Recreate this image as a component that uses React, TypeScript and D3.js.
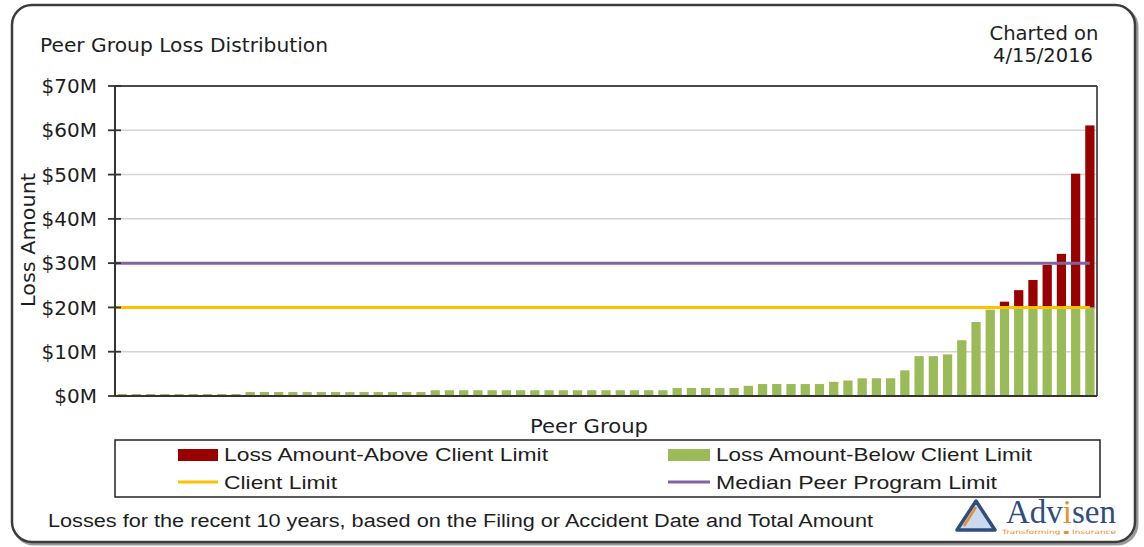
import * as d3 from "d3";

// loss amounts per peer, in $M, split at the client limit
const lossBelowLimit = [
  0.45, 0.45, 0.45, 0.45, 0.45, 0.45, 0.45, 0.45, 0.45,
  0.9, 0.9, 0.9, 0.9, 0.9, 0.9, 0.9, 0.9, 0.9, 0.9, 0.9, 0.9, 0.9,
  1.3, 1.3, 1.3, 1.3, 1.3, 1.3, 1.3, 1.3, 1.3, 1.3, 1.3, 1.3, 1.3, 1.3, 1.3, 1.3, 1.3,
  1.8, 1.8, 1.8, 1.8, 1.8,
  2.3,
  2.7, 2.7, 2.7, 2.7, 2.7,
  3.2, 3.5, 4.0, 4.0, 4.0, 5.8, 9.0, 9.0, 9.4, 12.6, 16.7, 19.5,
  20, 20, 20, 20, 20, 20, 20,
];
const lossAboveLimit = [
  0, 0, 0, 0, 0, 0, 0, 0, 0,
  0, 0, 0, 0, 0, 0, 0, 0, 0, 0, 0, 0, 0,
  0, 0, 0, 0, 0, 0, 0, 0, 0, 0, 0, 0, 0, 0, 0, 0, 0,
  0, 0, 0, 0, 0,
  0,
  0, 0, 0, 0, 0,
  0, 0, 0, 0, 0, 0, 0, 0, 0, 0, 0, 0,
  1.3, 3.9, 6.2, 9.6, 12.1, 30.2, 41.1,
];
const peers = lossBelowLimit.map((_, i) => `Peer ${i + 1}`);
const yTicks = [0, 10, 20, 30, 40, 50, 60, 70];
const clientLimit = 20;
const medianPeerLimit = 30;

const RED = "#990000";
const GREEN = "#9BBB59";
const YELLOW = "#FFC000";
const PURPLE = "#8064A2";
const TEXT = "#1e1e1e";
const SANS = "'DejaVu Sans', sans-serif";
const NARROW = "'Liberation Sans Narrow', 'Liberation Sans', sans-serif";

const plot = { left: 115, right: 1097, top: 86, bottom: 396 };

export default function App() {
  const x = d3
    .scaleBand<string>()
    .domain(peers)
    .range([plot.left, plot.right])
    .paddingInner(0.35)
    .paddingOuter(0.175);
  const y = d3.scaleLinear().domain([0, 70]).range([plot.bottom, plot.top]);
  const lastCenter = x(peers[peers.length - 1])! + x.bandwidth() / 2;

  return (
    <svg
      width={1144}
      height={547}
      style={{ position: "absolute", left: 0, top: 0 }}
    >
      <rect width={1144} height={547} fill="#fff" />
      {/* frame with shadow */}
      <rect x={14} y={7} width={1123} height={537} rx={20} fill="none" stroke="#9a9a9a" strokeWidth={3} />
      <rect x={12} y={5} width={1123} height={537} rx={20} fill="#fff" stroke="#3c3c3c" strokeWidth={2.5} />

      <text x={40} y={52} fontFamily={SANS} fontSize={19.5} fill={TEXT} textLength={288} lengthAdjust="spacingAndGlyphs">
        Peer Group Loss Distribution
      </text>
      <text x={1044} y={40} textAnchor="middle" fontFamily={SANS} fontSize={19} fill={TEXT} textLength={109} lengthAdjust="spacingAndGlyphs">
        Charted on
      </text>
      <text x={1043} y={62} textAnchor="middle" fontFamily={SANS} fontSize={19} fill={TEXT} textLength={100} lengthAdjust="spacingAndGlyphs">
        4/15/2016
      </text>

      {/* gridlines */}
      {yTicks.filter((t) => t > 0 && t < 70).map((t) => (
        <line key={t} x1={plot.left} x2={plot.right} y1={y(t)} y2={y(t)} stroke="#d4d4d4" strokeWidth={1.5} />
      ))}

      {/* bars */}
      {peers.map((p, i) => (
        <g key={p}>
          <rect x={x(p)} y={y(lossBelowLimit[i])} width={x.bandwidth()} height={y(0) - y(lossBelowLimit[i])} fill={GREEN} />
          {lossAboveLimit[i] > 0 && (
            <rect
              x={x(p)}
              y={y(lossBelowLimit[i] + lossAboveLimit[i])}
              width={x.bandwidth()}
              height={y(lossBelowLimit[i]) - y(lossBelowLimit[i] + lossAboveLimit[i])}
              fill={RED}
            />
          )}
        </g>
      ))}

      {/* limit lines */}
      <line x1={plot.left} x2={lastCenter} y1={y(clientLimit)} y2={y(clientLimit)} stroke={YELLOW} strokeWidth={3} />
      <line x1={plot.left} x2={lastCenter} y1={y(medianPeerLimit)} y2={y(medianPeerLimit)} stroke={PURPLE} strokeWidth={3} />

      {/* plot border and axes */}
      <line x1={plot.left} x2={plot.right} y1={plot.top} y2={plot.top} stroke="#4a4a4a" strokeWidth={1.8} />
      <line x1={plot.right} x2={plot.right} y1={plot.top} y2={plot.bottom} stroke="#4a4a4a" strokeWidth={1.8} />
      <line x1={plot.left} x2={plot.right} y1={plot.bottom} y2={plot.bottom} stroke="#333" strokeWidth={2} />
      <line x1={plot.left} x2={plot.left} y1={plot.top} y2={plot.bottom} stroke="#333" strokeWidth={2} />

      {yTicks.map((t) => (
        <g key={t}>
          <line x1={plot.left - 7} x2={plot.left + 6} y1={y(t)} y2={y(t)} stroke="#333" strokeWidth={1.8} />
          <text x={97} y={y(t)} dy="0.36em" textAnchor="end" fontFamily={SANS} fontSize={20} fill={TEXT}>
            {`$${t}M`}
          </text>
        </g>
      ))}

      <text
        transform={`translate(28, 240) rotate(-90)`}
        textAnchor="middle"
        dy="0.36em"
        fontFamily={SANS}
        fontSize={19}
        fill={TEXT}
        textLength={134}
        lengthAdjust="spacingAndGlyphs"
      >
        Loss Amount
      </text>
      <text x={589} y={433} textAnchor="middle" fontFamily={SANS} fontSize={19} fill={TEXT} textLength={118} lengthAdjust="spacingAndGlyphs">
        Peer Group
      </text>

      {/* legend */}
      <rect x={115} y={440} width={985} height={57} fill="none" stroke="#222" strokeWidth={1.5} />
      <rect x={178} y={449} width={40} height={12} fill={RED} />
      <text x={224} y={461} fontFamily={NARROW} fontSize={19} fill={TEXT} textLength={324} lengthAdjust="spacingAndGlyphs">
        Loss Amount-Above Client Limit
      </text>
      <rect x={668} y={449} width={42} height={12} fill={GREEN} />
      <text x={716} y={461} fontFamily={NARROW} fontSize={19} fill={TEXT} textLength={316} lengthAdjust="spacingAndGlyphs">
        Loss Amount-Below Client Limit
      </text>
      <line x1={178} x2={218} y1={482} y2={482} stroke={YELLOW} strokeWidth={3} />
      <text x={224} y={489} fontFamily={NARROW} fontSize={19} fill={TEXT} textLength={113} lengthAdjust="spacingAndGlyphs">
        Client Limit
      </text>
      <line x1={668} x2={710} y1={482} y2={482} stroke={PURPLE} strokeWidth={3} />
      <text x={716} y={489} fontFamily={NARROW} fontSize={19} fill={TEXT} textLength={281} lengthAdjust="spacingAndGlyphs">
        Median Peer Program Limit
      </text>

      <text x={48} y={527} fontFamily={NARROW} fontSize={18} fill={TEXT} textLength={825} lengthAdjust="spacingAndGlyphs">
        Losses for the recent 10 years, based on the Filing or Accident Date and Total Amount
      </text>

      {/* Advisen logo */}
      <path d="M957,530 L976,501 L995,530 Z" fill="#c9d9ee" stroke="#2f4d7e" strokeWidth={3.5} strokeLinejoin="round" />
      <path d="M964,526 L976,507" stroke="#e8902a" strokeWidth={2.5} />
      <text x={1006} y={523} fontFamily="'Liberation Serif', serif" fontSize={33} fill="#2f4d7e" textLength={110} lengthAdjust="spacingAndGlyphs">
        Adv<tspan fill="#e8902a">i</tspan>sen
      </text>
      <text x={1002} y={534} fontFamily={SANS} fontSize={6} fill="#e8902a" textLength={114} lengthAdjust="spacingAndGlyphs">
        Transforming ▪ Insurance
      </text>
    </svg>
  );
}
